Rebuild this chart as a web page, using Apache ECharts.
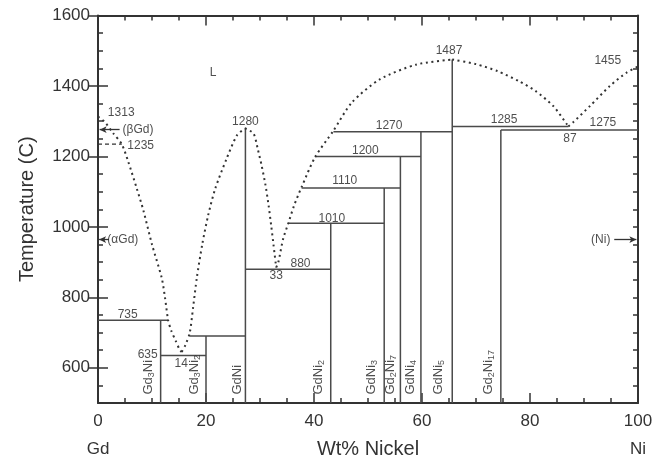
<!DOCTYPE html>
<html><head><meta charset="utf-8">
<script src="https://cdn.jsdelivr.net/npm/echarts@6/dist/echarts.min.js"></script>
<style>html,body{margin:0;padding:0;background:#fff}#c{width:663px;height:464px}</style>
</head><body><div id="c"></div>
<script>
// ---- data ----
const xTickValues = [0, 20, 40, 60, 80, 100];
const yTickLabels = [600, 800, 1000, 1200, 1400, 1600];
const endNames = ['Gd', 'Ni'];
const xTitle = 'Wt% Nickel';
const yTitle = 'Temperature (C)';

// liquidus curves (dotted)
const liqGd = [[0,1313],[1.3,1297],[2.8,1266],[4.4,1235],[5.6,1185],[7.2,1108],[8.4,1047],[10,950],[11.8,855],[12.4,800],[13.0,734],[13.6,704],[14.4,676],[15.1,652],[15.5,645]];
const liqGdNiL = [[15.5,645],[16.2,665],[17.0,700],[17.6,770],[18.3,855],[19.3,950],[20.4,1033],[21.7,1108],[23.8,1193],[25.7,1259],[27.2,1280]];
const liqGdNiR = [[27.2,1280],[28.8,1265],[29.6,1220],[30.3,1174],[31.0,1120],[31.6,1060],[32.1,1000],[32.5,949],[33.0,885]];
const liqGdNi5L = [[33.0,885],[33.4,900],[34.3,967],[35.2,1008],[36.3,1060],[37.7,1113],[40.2,1198],[43.6,1273],[47.0,1353],[52.2,1419],[59.0,1461],[65.6,1475]];
const liqGdNi5R = [[65.6,1475],[70.0,1462],[74.0,1442],[78.0,1413],[81.0,1386],[84.3,1343],[86.8,1292],[87.1,1285]];
const liqNi = [[87.1,1285],[88.0,1297],[91.1,1343],[94.8,1400],[97.9,1438],[100,1455]];
const metastable = [[0,1235],[4.4,1235]];

// invariant horizontals: [xStart, xEnd, T]
const hSegs = [[0,13.0,735],[11.6,20.0,635],[17.0,27.3,690],[27.3,43.1,880],[35.2,53.0,1010],[37.7,56.0,1110],[40.2,59.8,1200],[43.6,65.6,1270],[65.6,87.1,1285],[74.6,100,1275]];
// compound verticals: [x, Tlow, Thigh]
const vSegs = [[11.6,500,735],[20.0,500,690],[27.3,500,1280],[43.1,500,1010],[53.0,500,1110],[56.0,500,1200],[59.8,500,1270],[65.6,500,1475],[74.6,500,1275]];

// annotations: [text, x, T]
const notes = [['L',21.3,1438],['1313',4.3,1323],['(βGd)',7.4,1275],['1235',7.9,1230],['1280',27.3,1299],['1487',65.0,1499],['1455',94.4,1471],['1270',53.9,1288],['1200',49.5,1217],['1110',45.7,1130],['1010',43.3,1024],['880',37.5,895],['33',33.0,860],['1285',75.2,1303],['1275',93.5,1296],['87',87.4,1249],['735',5.5,752],['635',9.2,636],['14',15.4,612],['(αGd)',4.6,964],['(Ni)',93.1,964]];
// phase names (rotated) and their x positions
const phaseNames = ['Gd3Ni','Gd3Ni2','GdNi','GdNi2','GdNi3','Gd2Ni7','GdNi4','GdNi5','Gd2Ni17'];
const phaseX = [9.3,17.8,25.8,40.8,50.7,54.1,57.8,63.0,72.3];
const phaseBaseT = 524;
// arrows: [xFrom, T, xTo]
const arrows = [[4.0,1276,0.3],[2.0,964,0.2],[95.6,964,99.7]];

// ---- chart ----
const FONT = 'Liberation Sans, Arial, Helvetica, sans-serif';
const INK = '#333';
const LINE = '#4a4a4a';
const chart = echarts.init(document.getElementById('c'), null, {renderer:'canvas'});

const series = [];
const dotted = {color: INK, width: 2, type: [2, 3.6]};
[liqGd, liqGdNiL, liqGdNiR, liqGdNi5L, liqGdNi5R, liqNi].forEach(d => series.push({
  type:'line', data:d, showSymbol:false, smooth:0.25, silent:true, animation:false, lineStyle:dotted, z:3
}));
series.push({type:'line', data:metastable, showSymbol:false, silent:true, animation:false,
  lineStyle:{color:INK, width:1.3, type:[4,3]}, z:3});
hSegs.forEach(s => series.push({type:'line', data:[[s[0],s[2]],[s[1],s[2]]], showSymbol:false, silent:true, animation:false,
  lineStyle:{color:LINE, width:1.5}, z:2}));
vSegs.forEach(s => series.push({type:'line', data:[[s[0],s[1]],[s[0],s[2]]], showSymbol:false, silent:true, animation:false,
  lineStyle:{color:LINE, width:1.5}, z:2}));

series.push({
  type:'scatter', silent:true, animation:false, symbolSize:1, itemStyle:{color:'transparent'}, z:5,
  data: notes.map(n => ({value:[n[1], n[2]], name:n[0]})),
  label:{show:true, position:'inside', formatter:p => p.name, color:'#222', fontSize:12, fontFamily:FONT},
  markLine:{silent:true, animation:false, symbol:['none','arrow'], symbolSize:[5,7],
    label:{show:false}, lineStyle:{color:INK, width:1.3, type:'solid'},
    data: arrows.map(a => [{coord:[a[0],a[1]]},{coord:[a[2],a[1]]}])}
});
series.push({
  type:'scatter', silent:true, animation:false, symbolSize:1, itemStyle:{color:'transparent'}, z:5,
  data: phaseNames.map((n,i) => ({value:[phaseX[i], phaseBaseT], name:n})),
  label:{show:true, position:'inside', rotate:90, align:'left', verticalAlign:'middle',
    formatter:p => p.name.replace(/(\d+)/g, '{s|$1}'),
    color:'#222', fontSize:13, fontFamily:FONT, lineHeight:15,
    rich:{s:{fontSize:9, fontFamily:FONT, color:'#222', verticalAlign:'bottom', padding:[7,0,0,0]}}}
});

const axLine = {show:true, onZero:false, lineStyle:{color:INK, width:2}};
const tickStyle = {color:INK, width:1.5};
const plain = v => String(v);
chart.setOption({
  backgroundColor:'#fff',
  animation:false,
  grid:{left:98, right:25, top:15.5, bottom:58.3, containLabel:false},
  xAxis:[
    {type:'value', min:0, max:100, interval:20, position:'bottom',
      axisLine:axLine, axisTick:{inside:true, length:10, lineStyle:tickStyle},
      minorTick:{show:true, splitNumber:4, length:5, lineStyle:tickStyle},
      splitLine:{show:false}, minorSplitLine:{show:false},
      axisLabel:{customValues:xTickValues, formatter:plain, fontSize:17, color:INK, margin:10, fontFamily:FONT},
      name:xTitle, nameLocation:'middle', nameGap:36, nameTextStyle:{fontSize:20, color:INK, fontFamily:FONT}},
    {type:'value', min:0, max:100, interval:20, position:'top',
      axisLine:axLine, axisTick:{inside:true, length:10, lineStyle:tickStyle},
      minorTick:{show:true, splitNumber:4, length:5, lineStyle:tickStyle},
      splitLine:{show:false}, axisLabel:{show:false}},
    {type:'value', min:0, max:100, position:'bottom', offset:30,
      axisLine:{show:false}, axisTick:{show:false}, splitLine:{show:false},
      axisLabel:{customValues:[0,100], formatter:v => v === 0 ? endNames[0] : endNames[1], fontSize:17, color:INK, fontFamily:FONT, margin:8}}
  ],
  yAxis:[
    {type:'value', min:500, max:1600, interval:50, position:'left',
      axisLine:axLine, axisTick:{inside:true, length:5, lineStyle:tickStyle}, splitLine:{show:false},
      axisLabel:{customValues:yTickLabels, formatter:plain, fontSize:17, color:INK, margin:8, fontFamily:FONT},
      name:yTitle, nameLocation:'middle', nameGap:61, nameRotate:90, nameTextStyle:{fontSize:20, color:INK, fontFamily:FONT}},
    {type:'value', min:500, max:1600, position:'left',
      axisLine:{show:false}, axisTick:{inside:true, length:10, customValues:yTickLabels, lineStyle:tickStyle},
      splitLine:{show:false}, axisLabel:{show:false}},
    {type:'value', min:500, max:1600, interval:50, position:'right',
      axisLine:axLine, axisTick:{inside:true, length:5, lineStyle:tickStyle}, splitLine:{show:false}, axisLabel:{show:false}},
    {type:'value', min:500, max:1600, position:'right',
      axisLine:{show:false}, axisTick:{inside:true, length:10, customValues:yTickLabels, lineStyle:tickStyle},
      splitLine:{show:false}, axisLabel:{show:false}}
  ],
  series: series
});
</script></body></html>
